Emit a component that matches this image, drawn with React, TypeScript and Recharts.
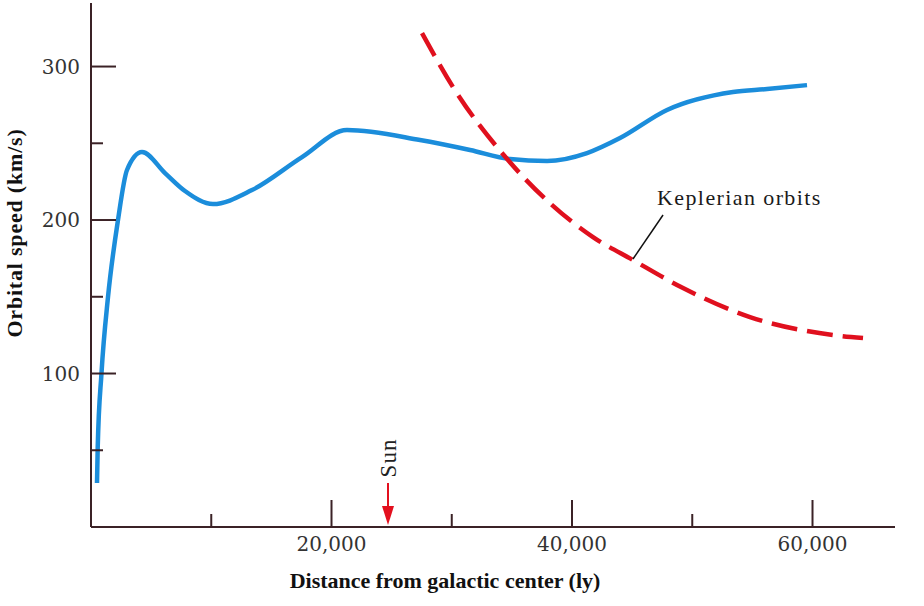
import React from "react";
import {
	LineChart,
	Line,
	XAxis,
	YAxis,
	ReferenceLine,
	ReferenceDot,
} from "recharts";

// observed rotation curve (blue)
const observedDistance = [
	499, 557, 873, 1414, 2245, 2994, 4241, 6154, 7817, 10146, 13389, 17547,
	21289, 27360, 31518, 34845, 37921, 41247, 43992, 47900, 53390, 56220, 59543,
];
const observedSpeed = [
	28.7, 51.5, 100.3, 149.8, 200, 232.6, 244.3, 230.6, 218.9, 210.4, 219.5, 241,
	258.6, 252.1, 245.6, 239.7, 238.4, 243.6, 253.4, 271.7, 283.4, 285.3, 287.9,
];

// keplerian prediction (red dashed)
const keplerDistance = [
	27526, 30104, 34678, 41746, 45073, 49231, 54802, 61705, 64200,
];
const keplerSpeed = [321.8, 286.6, 239.1, 188.9, 173.9, 155.7, 136.8, 125.1, 123.1];

const xTicks = [10000, 20000, 30000, 40000, 50000, 60000];
const yTicks = [50, 100, 150, 200, 250, 300];
const sunDistance = 24700;

const observed = observedDistance.map((x, i) => ({ x, v: observedSpeed[i] }));
const kepler = keplerDistance.map((x, i) => ({ x, v: keplerSpeed[i] }));

const axisColor = "#3b2226";
const serif = "'Liberation Serif', 'Times New Roman', serif";
const tickFont = "'DejaVu Serif', serif";

const XTick = (props: any) => {
	const { x, y, payload } = props;
	const v = payload.value;
	const major = v % 20000 === 0;
	return (
		<g>
			<line
				x1={x}
				x2={x}
				y1={y}
				y2={y - (major ? 27 : 13)}
				stroke={axisColor}
				strokeWidth={2}
			/>
			{major && (
				<text
					x={x}
					y={y + 24}
					textAnchor="middle"
					fontFamily={tickFont}
					fontSize={20}
					fill="#333"
				>
					{v.toLocaleString("en-US")}
				</text>
			)}
		</g>
	);
};

const YTick = (props: any) => {
	const { x, y, payload } = props;
	const v = payload.value;
	const major = v % 100 === 0;
	return (
		<g>
			<line
				x1={x}
				x2={x + (major ? 25 : 12)}
				y1={y}
				y2={y}
				stroke={axisColor}
				strokeWidth={2}
			/>
			{major && (
				<text
					x={x - 11}
					y={y + 7}
					textAnchor="end"
					fontFamily={tickFont}
					fontSize={20}
					fill="#333"
				>
					{v}
				</text>
			)}
		</g>
	);
};

const SunMarker = (props: any) => {
	const { cx, cy } = props;
	return (
		<g>
			<line x1={cx} x2={cx} y1={cy - 44} y2={cy - 18} stroke="#e3101e" strokeWidth={2} />
			<path
				d={`M${cx - 6},${cy - 21} L${cx + 6},${cy - 21} L${cx},${cy - 2} Z`}
				fill="#e3101e"
			/>
			<text
				transform={`translate(${cx + 8},${cy - 69}) rotate(-90)`}
				textAnchor="middle"
				fontFamily={serif}
				fontSize={23}
				letterSpacing={1}
				fill="#222"
			>
				Sun
			</text>
		</g>
	);
};

const KeplerLabel = (props: any) => {
	const { viewBox } = props;
	return (
		<text
			x={viewBox.x}
			y={viewBox.y}
			fontFamily={serif}
			fontSize={22}
			letterSpacing={1.4}
			fill="#1a1a1a"
		>
			Keplerian orbits
		</text>
	);
};

export default function App() {
	return (
		<div style={{ position: "absolute", left: 0, top: 0, background: "#fff" }}>
			<LineChart
				width={924}
				height={606}
				margin={{ top: 3, right: 29, bottom: 0, left: 0 }}
			>
				<XAxis
					dataKey="x"
					type="number"
					domain={[0, 66860]}
					ticks={xTicks}
					interval={0}
					tickSize={0}
					tickMargin={0}
					tick={<XTick />}
					height={79}
					axisLine={{ stroke: axisColor, strokeWidth: 2 }}
					allowDataOverflow
					label={{
						content: () => (
							<text
								x={445}
								y={588}
								textAnchor="middle"
								fontFamily={serif}
								fontWeight="bold"
								fontSize={22}
								fill="#111"
							>
								Distance from galactic center (ly)
							</text>
						),
					}}
				/>
				<YAxis
					dataKey="v"
					type="number"
					domain={[0, 341.4]}
					ticks={yTicks}
					interval={0}
					tickSize={0}
					tickMargin={0}
					tick={<YTick />}
					width={91}
					axisLine={{ stroke: axisColor, strokeWidth: 2 }}
					allowDataOverflow
					label={{
						content: () => (
							<text
								transform="translate(22,233) rotate(-90)"
								textAnchor="middle"
								fontFamily={serif}
								fontWeight="bold"
								fontSize={22}
								letterSpacing={0.8}
								fill="#111"
							>
								Orbital speed (km/s)
							</text>
						),
					}}
				/>
				<Line
					data={observed}
					dataKey="v"
					type="monotone"
					stroke="#1b8ddb"
					strokeWidth={4.5}
					dot={false}
					isAnimationActive={false}
				/>
				<Line
					data={kepler}
					dataKey="v"
					type="monotone"
					stroke="#e0101e"
					strokeWidth={4.5}
					strokeDasharray="26 10"
					dot={false}
					isAnimationActive={false}
				/>
				<ReferenceLine
					segment={[
						{ x: 47570, y: 203.3 },
						{ x: 45070, y: 174.6 },
					]}
					stroke="#111"
					strokeWidth={1.5}
				/>
				<ReferenceDot
					x={47070}
					y={209.8}
					r={0}
					fill="none"
					stroke="none"
					label={<KeplerLabel />}
				/>
				<ReferenceDot x={sunDistance} y={0} r={0} shape={<SunMarker />} />
			</LineChart>
		</div>
	);
}
